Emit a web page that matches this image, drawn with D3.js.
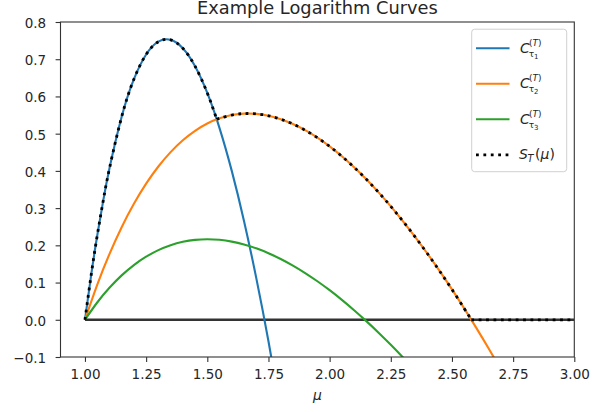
<!DOCTYPE html>
<html><head><meta charset="utf-8">
<script src="https://cdn.jsdelivr.net/npm/d3@7"></script>
<style>
body{margin:0;background:#fff}
svg{display:block}
text{font-family:"DejaVu Sans",sans-serif;fill:#262626}
</style>
</head><body>
<svg id="c" width="592" height="412"></svg>
<script>
const title = "Example Logarithm Curves";
const xLabel = "μ";
const xTicks = [1.00, 1.25, 1.50, 1.75, 2.00, 2.25, 2.50, 2.75, 3.00];
const yTicks = [-0.1, 0.0, 0.1, 0.2, 0.3, 0.4, 0.5, 0.6, 0.7, 0.8];
const xDomain = [0.9, 3.0];
const yDomain = [-0.1, 0.8];

// C_{tau_1}
const c1Mu  = [1.000, 1.025, 1.050, 1.075, 1.100, 1.150, 1.200, 1.250, 1.300, 1.350, 1.400, 1.450, 1.500, 1.550, 1.600, 1.650, 1.700, 1.750, 1.800];
const c1Val = [0.0000, 0.1189, 0.2258, 0.3214, 0.4062, 0.5452, 0.6464, 0.7128, 0.7472, 0.7520, 0.7294, 0.6812, 0.6094, 0.5150, 0.4000, 0.2656, 0.1126, -0.0576, -0.2442];
// C_{tau_2}
const c2Mu  = [1.00, 1.05, 1.10, 1.15, 1.20, 1.25, 1.30, 1.35, 1.40, 1.45, 1.50, 1.55, 1.60, 1.65, 1.70, 1.75, 1.80, 1.85, 1.90, 1.95, 2.00, 2.05, 2.10, 2.15, 2.20, 2.25, 2.30, 2.35, 2.40, 2.45, 2.50, 2.55, 2.60, 2.65, 2.70];
const c2Val = [0.0000, 0.0940, 0.1766, 0.2488, 0.3116, 0.3657, 0.4118, 0.4505, 0.4824, 0.5078, 0.5274, 0.5413, 0.5500, 0.5539, 0.5532, 0.5481, 0.5390, 0.5260, 0.5093, 0.4892, 0.4657, 0.4392, 0.4097, 0.3774, 0.3423, 0.3047, 0.2646, 0.2221, 0.1774, 0.1305, 0.0815, 0.0305, -0.0225, -0.0772, -0.1338];
// C_{tau_3}
const c3Mu  = [1.00, 1.05, 1.10, 1.15, 1.20, 1.25, 1.30, 1.35, 1.40, 1.45, 1.50, 1.55, 1.60, 1.65, 1.70, 1.75, 1.80, 1.85, 1.90, 1.95, 2.00, 2.05, 2.10, 2.15, 2.20, 2.25, 2.30, 2.35];
const c3Val = [0.0000, 0.0464, 0.0859, 0.1193, 0.1470, 0.1694, 0.1871, 0.2003, 0.2094, 0.2147, 0.2164, 0.2148, 0.2100, 0.2023, 0.1919, 0.1789, 0.1634, 0.1456, 0.1256, 0.1035, 0.0795, 0.0535, 0.0258, -0.0036, -0.0346, -0.0672, -0.1013, -0.1367];
// S_T(mu): upper envelope, with its two kinks
const sMu  = [1.000, 1.025, 1.050, 1.075, 1.100, 1.150, 1.200, 1.250, 1.300, 1.350, 1.400, 1.450, 1.500, 1.5385, 1.55, 1.60, 1.65, 1.70, 1.75, 1.80, 1.85, 1.90, 1.95, 2.00, 2.05, 2.10, 2.15, 2.20, 2.25, 2.30, 2.35, 2.40, 2.45, 2.50, 2.55, 2.579, 3.000];
const sVal = [0.0000, 0.1189, 0.2258, 0.3214, 0.4062, 0.5452, 0.6464, 0.7128, 0.7472, 0.7520, 0.7294, 0.6812, 0.6094, 0.5385, 0.5413, 0.5500, 0.5539, 0.5532, 0.5481, 0.5390, 0.5260, 0.5093, 0.4892, 0.4657, 0.4392, 0.4097, 0.3774, 0.3423, 0.3047, 0.2646, 0.2221, 0.1774, 0.1305, 0.0815, 0.0305, 0.0000, 0.0000];
const sKinks = [1.5385, 2.579];
// baseline y = 0
const zeroMu = [1.0, 3.0];
const zeroVal = [0.0, 0.0];

const colors = ["#1f77b4", "#ff7f0e", "#2ca02c"];

const svg = d3.select("#c");
const L = 60.5, R = 574.3, T = 22, B = 357;
const x = d3.scaleLinear(xDomain, [L, R]);
const y = d3.scaleLinear(yDomain, [B, T]);

svg.append("defs").append("clipPath").attr("id", "clip")
  .append("rect").attr("x", L).attr("y", T).attr("width", R - L).attr("height", B - T);

const plot = svg.append("g").attr("clip-path", "url(#clip)");
const zip = (a, b) => a.map((d, i) => [d, b[i]]);
const line = d3.line().x(d => x(d[0])).y(d => y(d[1])).curve(d3.curveNatural);
const lineLin = d3.line().x(d => x(d[0])).y(d => y(d[1]));

plot.append("path").attr("d", lineLin(zip(zeroMu, zeroVal)))
  .attr("fill", "none").attr("stroke", "#333").attr("stroke-width", 2.4);

[[c1Mu, c1Val], [c2Mu, c2Val], [c3Mu, c3Val]].forEach(([m, v], i) => {
  plot.append("path").attr("d", line(zip(m, v)))
    .attr("fill", "none").attr("stroke", colors[i]).attr("stroke-width", 2.1);
});

// S_T dotted, drawn piecewise between kinks
const sPts = zip(sMu, sVal);
const bounds = [sMu[0], ...sKinks, sMu[sMu.length - 1]];
let sD = "";
for (let k = 0; k < bounds.length - 1; k++) {
  const seg = sPts.filter(p => p[0] >= bounds[k] && p[0] <= bounds[k + 1]);
  sD += (seg.length > 2 ? line(seg) : lineLin(seg));
}
plot.append("path").attr("d", sD)
  .attr("fill", "none").attr("stroke", "#000").attr("stroke-width", 2.8)
  .attr("stroke-dasharray", "2.8,4.6");

// axes
const xAxis = svg.append("g").attr("transform", `translate(0,${B})`)
  .call(d3.axisBottom(x).tickValues(xTicks).tickFormat(d3.format(".2f")).tickSize(4.9).tickPadding(7.5));
const yAxis = svg.append("g").attr("transform", `translate(${L},0)`)
  .call(d3.axisLeft(y).tickValues(yTicks).tickFormat(d3.format(".1f")).tickSize(4.9).tickPadding(9.5));
[xAxis, yAxis].forEach(a => {
  a.select(".domain").remove();
  a.selectAll(".tick line").attr("stroke", "#333").attr("stroke-width", 1.1);
  a.selectAll(".tick text").attr("font-family", "DejaVu Sans").attr("font-size", 13.5).attr("fill", "#262626");
});
yAxis.selectAll(".tick text").attr("dy", "0.4em");

// spines
svg.append("rect").attr("x", L).attr("y", T).attr("width", R - L).attr("height", B - T)
  .attr("fill", "none").attr("stroke", "#333").attr("stroke-width", 1.1);

// title and x label
svg.append("text").attr("x", (L + R) / 2).attr("y", 13.5).attr("text-anchor", "middle")
  .attr("font-size", 17.8).text(title);
svg.append("text").attr("x", (L + R) / 2).attr("y", 400).attr("text-anchor", "middle")
  .attr("font-size", 13.9).attr("font-style", "italic").text(xLabel);

// legend
const leg = svg.append("g");
leg.append("rect").attr("x", 471.7).attr("y", 29.2).attr("width", 95).attr("height", 142.5)
  .attr("rx", 3).attr("fill", "#fff").attr("fill-opacity", 0.8)
  .attr("stroke", "#d0d0d0").attr("stroke-width", 1);
const legY0 = 48.3, legStep = 35.5;
const subs = ["1", "2", "3"];
function span(t, s, size, italic, opts) {
  const ts = t.append("tspan").attr("font-size", size)
    .attr("font-style", italic ? "italic" : "normal").text(s);
  if (opts && opts.x != null) ts.attr("x", opts.x);
  if (opts && opts.y != null) ts.attr("y", opts.y);
  return ts;
}
for (let i = 0; i < 4; i++) {
  const cy = legY0 + i * legStep;
  const ln = leg.append("line").attr("x1", 476).attr("x2", 509.5).attr("y1", cy).attr("y2", cy);
  if (i < 3) ln.attr("stroke", colors[i]).attr("stroke-width", 2.1);
  else ln.attr("stroke", "#000").attr("stroke-width", 2.8).attr("stroke-dasharray", "2.8,4.6");
  const by = cy + 4.4;
  if (i < 3) {
    const t = leg.append("text").attr("x", 520).attr("y", by);
    span(t, "C", 13.9, true);
    const sup = leg.append("text").attr("x", 529).attr("y", by - 7.2);
    span(sup, "(", 9, false);
    span(sup, "T", 9, true);
    span(sup, ")", 9, false);
    const sub = leg.append("text").attr("x", 528.8).attr("y", by + 3.8);
    span(sub, "τ", 9, false);
    span(sub, subs[i], 7, false, {x: 534, y: by + 6});
  } else {
    const t = leg.append("text").attr("x", 519).attr("y", by);
    span(t, "S", 13.9, true, {x: 519, y: by});
    span(t, "T", 9.7, true, {x: 527.5, y: by + 3});
    span(t, "(", 13.9, false, {x: 535, y: by});
    span(t, "μ", 13.9, true, {x: 540.6, y: by});
    span(t, ")", 13.9, false, {x: 549.6, y: by});
  }
}
</script>
</body></html>
